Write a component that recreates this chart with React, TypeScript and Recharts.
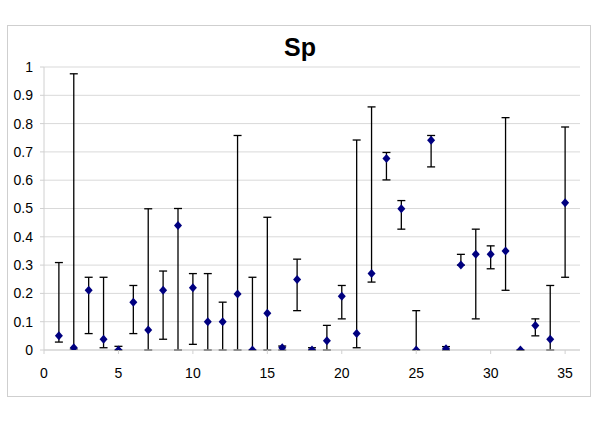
import {
  ScatterChart,
  Scatter,
  XAxis,
  YAxis,
  CartesianGrid,
  ErrorBar,
} from "recharts";

// sample index 1..35
const samples = [
  1, 2, 3, 4, 5, 6, 7, 8, 9, 10, 11, 12, 13, 14, 15, 16, 17, 18, 19, 20,
  21, 22, 23, 24, 25, 26, 27, 28, 29, 30, 31, 32, 33, 34, 35,
];

// Sp estimate
const sp = [
  0.05, 0.008, 0.211, 0.038, 0, 0.169, 0.071, 0.211, 0.44, 0.22, 0.1, 0.1,
  0.198, 0, 0.13, 0.008, 0.249, 0, 0.033, 0.19, 0.058, 0.27, 0.677, 0.499, 0,
  0.741, 0.004, 0.3, 0.338, 0.338, 0.35, 0, 0.087, 0.038, 0.52,
];

// lower bound of interval
const lower = [
  0.028, 0.003, 0.058, 0.008, 0, 0.058, 0, 0.038, 0, 0.02, 0, 0, 0, 0, 0, 0,
  0.139, 0, 0, 0.11, 0.008, 0.24, 0.601, 0.427, 0, 0.647, 0, 0.3, 0.11, 0.287,
  0.211, 0, 0.05, 0, 0.257,
];

// upper bound of interval
const upper = [
  0.309, 0.976, 0.257, 0.257, 0.013, 0.228, 0.499, 0.279, 0.5, 0.27, 0.27,
  0.169, 0.758, 0.257, 0.469, 0.014, 0.321, 0.008, 0.087, 0.228, 0.742, 0.859,
  0.698, 0.528, 0.139, 0.758, 0.012, 0.338, 0.427, 0.368, 0.821, 0, 0.11,
  0.228, 0.788,
];

const xTicks = [0, 5, 10, 15, 20, 25, 30, 35];
const yTicks = [0, 0.1, 0.2, 0.3, 0.4, 0.5, 0.6, 0.7, 0.8, 0.9, 1];

const data = samples.map((x, i) => ({
  x,
  y: sp[i],
  err: [Math.max(0, sp[i] - lower[i]), Math.max(0, upper[i] - sp[i])],
}));

const Diamond = (props: any) => {
  const { cx, cy } = props;
  const w = 4;
  const h = 4.5;
  return (
    <polygon
      points={`${cx},${cy - h} ${cx + w},${cy} ${cx},${cy + h} ${cx - w},${cy}`}
      fill="#000080"
    />
  );
};

const font = "'Liberation Sans', Arial, sans-serif";

const App = () => {
  return (
    <div
      style={{
        position: "absolute",
        left: 0,
        top: 0,
        width: 600,
        height: 424,
        background: "#fff",
        fontFamily: font,
      }}
    >
      {/* chart frame */}
      <div
        style={{
          position: "absolute",
          left: 7,
          top: 25,
          width: 582,
          height: 370,
          border: "1px solid #cfcfcf",
        }}
      />

      <div
        style={{
          position: "absolute",
          left: 0,
          width: 600,
          top: 33,
          textAlign: "center",
          fontSize: 25,
          fontWeight: "bold",
          color: "#000",
        }}
      >
        Sp
      </div>

      <div style={{ position: "absolute", left: 0, top: 0 }}>
        <ScatterChart
          width={600}
          height={424}
          margin={{ top: 67, right: 20, bottom: 50, left: 8 }}
        >
          <CartesianGrid vertical={false} stroke="#d9d9d9" />

          <XAxis
            type="number"
            dataKey="x"
            domain={[0, 36]}
            ticks={xTicks}
            height={24}
            tickSize={4}
            tickMargin={14}
            stroke="#d0d0d0"
            tick={{ fill: "#000", fontSize: 14, fontFamily: font }}
            allowDataOverflow
          />

          <YAxis
            type="number"
            dataKey="y"
            domain={[0, 1]}
            ticks={yTicks}
            width={36}
            tickSize={4}
            tickMargin={7}
            stroke="#d0d0d0"
            tick={{ fill: "#000", fontSize: 14, fontFamily: font }}
            allowDataOverflow
          />

          <Scatter
            data={data}
            shape={<Diamond />}
            isAnimationActive={false}
          >
            <ErrorBar
              dataKey="err"
              direction="y"
              width={4}
              stroke="#000"
              strokeWidth={1.3}
              isAnimationActive={false}
            />
          </Scatter>
        </ScatterChart>
      </div>
    </div>
  );
};

export default App;
